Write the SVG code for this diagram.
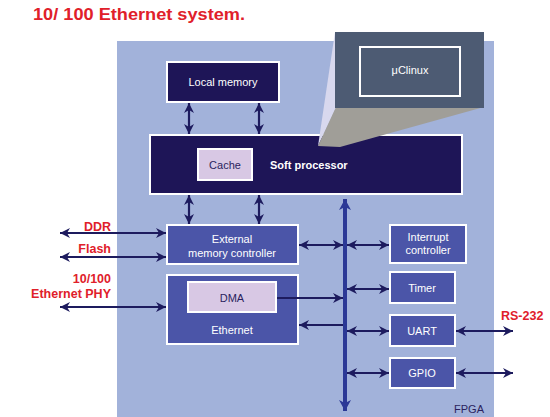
<svg xmlns="http://www.w3.org/2000/svg" width="550" height="417" viewBox="0 0 550 417">
<defs>
<style>
.navy{fill:#1e1557;stroke:#fff;stroke-width:2}
.mid{fill:#4b55a8;stroke:#fff;stroke-width:2}
.lil{fill:#d8c8e4;stroke:#fff;stroke-width:2}
.t{font-family:"Liberation Sans",Arial,sans-serif;font-size:11px;text-anchor:middle}
.w{fill:#fff}
.d{fill:#2a1f5e}
.red{font-family:"Liberation Sans",Arial,sans-serif;font-size:12.5px;font-weight:bold;fill:#e0202a}
.c{stroke:#1d1b5e;stroke-width:2.2;fill:none}
</style>
<marker id="ah" markerUnits="userSpaceOnUse" markerWidth="12" markerHeight="12" refX="10" refY="6" orient="auto-start-reverse">
<path d="M0,1 L10,6 L0,11 L3,6 z" fill="#1d1b5e"/>
</marker>
<marker id="bh" markerUnits="userSpaceOnUse" markerWidth="14" markerHeight="14" refX="11" refY="7" orient="auto-start-reverse">
<path d="M0,1 L11,7 L0,13 L3,7 z" fill="#2b3896"/>
</marker>
</defs>
<rect width="550" height="417" fill="#fff"/>
<text x="33" y="20" font-family="Liberation Sans,Arial,sans-serif" font-size="17" font-weight="bold" fill="#e0202a" textLength="212" lengthAdjust="spacingAndGlyphs">10/ 100 Ethernet system.</text>
<g id="fpga">
<rect x="117" y="41" width="377" height="376" fill="#a2b2da"/>
<text x="469" y="413" class="t d" font-size="10">FPGA</text>
</g>
<g id="local-memory">
<rect x="167" y="62" width="112" height="40" class="navy"/>
<text x="223" y="86" class="t w">Local memory</text>
</g>
<g id="soft-processor">
<rect x="150" y="135" width="312" height="59" class="navy"/>
<rect x="198" y="149" width="54" height="31" class="lil"/>
<text x="225" y="169" class="t d">Cache</text>
<text x="270" y="169" class="t w" font-weight="bold" style="text-anchor:start">Soft processor</text>
</g>
<g id="uclinux">
<polygon points="335,32 336,108 318,146" fill="#d8d8ee"/>
<polygon points="336,107 484,107 340,147 318,146" fill="#a09e98"/>
<rect x="335" y="32" width="149" height="76" fill="#4d5b73"/>
<rect x="360" y="47" width="100" height="49" fill="#4d5b73" stroke="#fff" stroke-width="2"/>
<text x="410" y="74" class="t w">μClinux</text>
</g>
<g id="ext-mem">
<rect x="167" y="225" width="131" height="39" class="mid"/>
<text x="232" y="243" class="t w">External</text>
<text x="232" y="257" class="t w">memory controller</text>
</g>
<g id="ethernet">
<rect x="167" y="275" width="131" height="69" class="mid"/>
<rect x="188" y="282" width="88" height="30" class="lil"/>
<text x="232" y="302" class="t d">DMA</text>
<text x="232" y="334" class="t w">Ethernet</text>
</g>
<g id="interrupt">
<rect x="390" y="225" width="76" height="38" class="mid"/>
<text x="428" y="241" class="t w">Interrupt</text>
<text x="428" y="254" class="t w">controller</text>
</g>
<g id="timer">
<rect x="390" y="272" width="65" height="31" class="mid"/>
<text x="422" y="292" class="t w">Timer</text>
</g>
<g id="uart">
<rect x="390" y="315" width="65" height="31" class="mid"/>
<text x="422" y="335" class="t w">UART</text>
</g>
<g id="gpio">
<rect x="390" y="358" width="65" height="30" class="mid"/>
<text x="422" y="377" class="t w">GPIO</text>
</g>
<g id="labels">
<text x="111" y="231" class="red" text-anchor="end">DDR</text>
<text x="111" y="253" class="red" text-anchor="end">Flash</text>
<text x="111" y="283" class="red" text-anchor="end">10/100</text>
<text x="111" y="298" class="red" text-anchor="end">Ethernet PHY</text>
<text x="501" y="320" class="red">RS-232</text>
</g>
<g id="connectors">
<line x1="345" y1="199" x2="345" y2="411" stroke="#2b3896" stroke-width="4" marker-start="url(#bh)" marker-end="url(#bh)"/>
<line x1="189" y1="103" x2="189" y2="134" class="c" marker-start="url(#ah)" marker-end="url(#ah)"/>
<line x1="259" y1="103" x2="259" y2="134" class="c" marker-start="url(#ah)" marker-end="url(#ah)"/>
<line x1="189" y1="195" x2="189" y2="224" class="c" marker-start="url(#ah)" marker-end="url(#ah)"/>
<line x1="259" y1="195" x2="259" y2="224" class="c" marker-start="url(#ah)" marker-end="url(#ah)"/>
<line x1="60" y1="233" x2="166" y2="233" class="c" marker-start="url(#ah)" marker-end="url(#ah)"/>
<line x1="60" y1="257" x2="166" y2="257" class="c" marker-start="url(#ah)" marker-end="url(#ah)"/>
<line x1="60" y1="307" x2="166" y2="307" class="c" marker-start="url(#ah)" marker-end="url(#ah)"/>
<line x1="299" y1="245" x2="343" y2="245" class="c" marker-start="url(#ah)" marker-end="url(#ah)"/>
<line x1="347" y1="245" x2="389" y2="245" class="c" marker-start="url(#ah)" marker-end="url(#ah)"/>
<line x1="277" y1="298" x2="343" y2="298" class="c" marker-end="url(#ah)"/>
<line x1="343" y1="325" x2="299" y2="325" class="c" marker-end="url(#ah)"/>
<line x1="347" y1="289" x2="389" y2="289" class="c" marker-start="url(#ah)" marker-end="url(#ah)"/>
<line x1="347" y1="331" x2="389" y2="331" class="c" marker-start="url(#ah)" marker-end="url(#ah)"/>
<line x1="347" y1="373" x2="389" y2="373" class="c" marker-start="url(#ah)" marker-end="url(#ah)"/>
<line x1="456" y1="331" x2="513" y2="331" class="c" marker-start="url(#ah)" marker-end="url(#ah)"/>
<line x1="456" y1="373" x2="513" y2="373" class="c" marker-start="url(#ah)" marker-end="url(#ah)"/>
</g>
</svg>
